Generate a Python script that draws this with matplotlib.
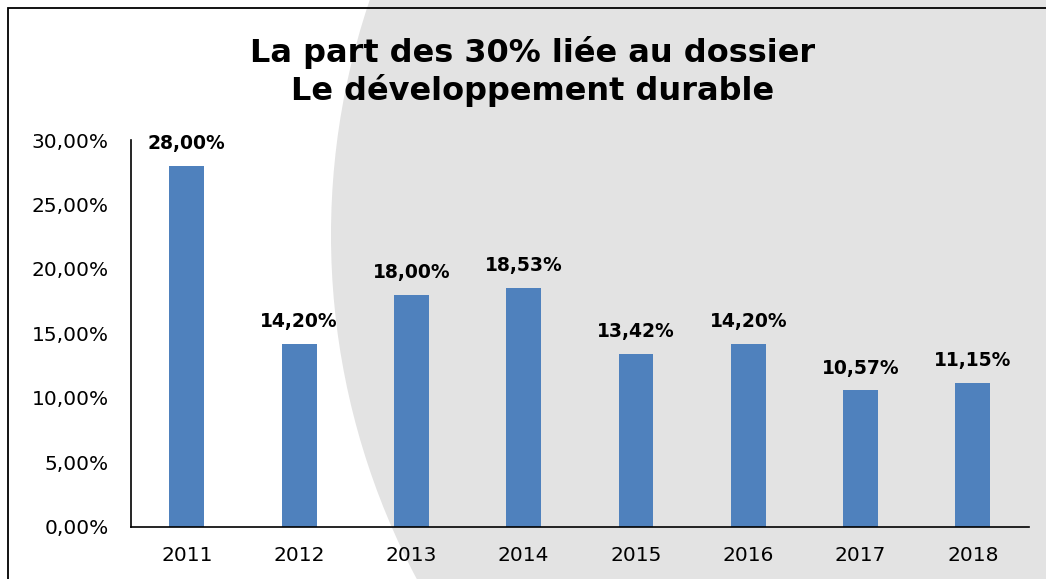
import matplotlib
matplotlib.use("Agg")
import matplotlib.pyplot as plt
from matplotlib.patches import Circle, Rectangle

years = ["2011", "2012", "2013", "2014", "2015", "2016", "2017", "2018"]
values = [28.00, 14.20, 18.00, 18.53, 13.42, 14.20, 10.57, 11.15]
yticks = [0, 5, 10, 15, 20, 25, 30]
title_lines = ["La part des 30% liée au dossier", "Le développement durable"]

W, H, DPI = 1046, 579, 100
fig = plt.figure(figsize=(W / DPI, H / DPI), dpi=DPI)
fig.patch.set_facecolor("white")

def px(x, y):
    return (x / DPI, (H - y) / DPI)

# background grey circle
circ = Circle(px(1064, 235), 733 / DPI, transform=fig.dpi_scale_trans,
              facecolor="#e3e3e3", edgecolor="none", zorder=-2)
fig.patches.append(circ)
# frame
rect = Rectangle(px(8, 700), 20, (700 - 8) / DPI, transform=fig.dpi_scale_trans,
                 fill=False, edgecolor="black", linewidth=1.3, zorder=-1)
fig.patches.append(rect)

ax = fig.add_axes([130.7 / W, 1 - 526.7 / H, (1029 - 130.7) / W, (526.7 - 140) / H])
ax.set_facecolor("none")

x = list(range(len(years)))
ax.bar(x, values, width=0.31, color="#4f81bd", zorder=2)
ax.set_xlim(-0.5, len(years) - 0.5)
ax.set_ylim(0, 30)
ax.set_xticks(x)
ax.set_xticklabels(years)
ax.set_yticks(yticks)
ax.set_yticklabels([f"{v:.2f}".replace(".", ",") + "%" for v in yticks])
ax.tick_params(axis="both", length=0, labelsize=14.5, colors="black")
ax.tick_params(axis="y", pad=16)
ax.tick_params(axis="x", pad=14)
for s in ["top", "right"]:
    ax.spines[s].set_visible(False)
for s in ["left", "bottom"]:
    ax.spines[s].set_color("black")
    ax.spines[s].set_linewidth(1.2)

for xi, v in zip(x, values):
    ax.annotate(f"{v:.2f}".replace(".", ",") + "%", (xi, v), xytext=(0, 22),
                textcoords="offset pixels", ha="center", va="center",
                fontsize=13.5, fontweight="bold", color="black")

fig.text(533 / W, 1 - 62 / H, title_lines[0], ha="center", va="baseline",
         fontsize=23, fontweight="bold", color="black")
fig.text(533 / W, 1 - 100 / H, title_lines[1], ha="center", va="baseline",
         fontsize=23, fontweight="bold", color="black")

fig.savefig("out.png", dpi=DPI)
